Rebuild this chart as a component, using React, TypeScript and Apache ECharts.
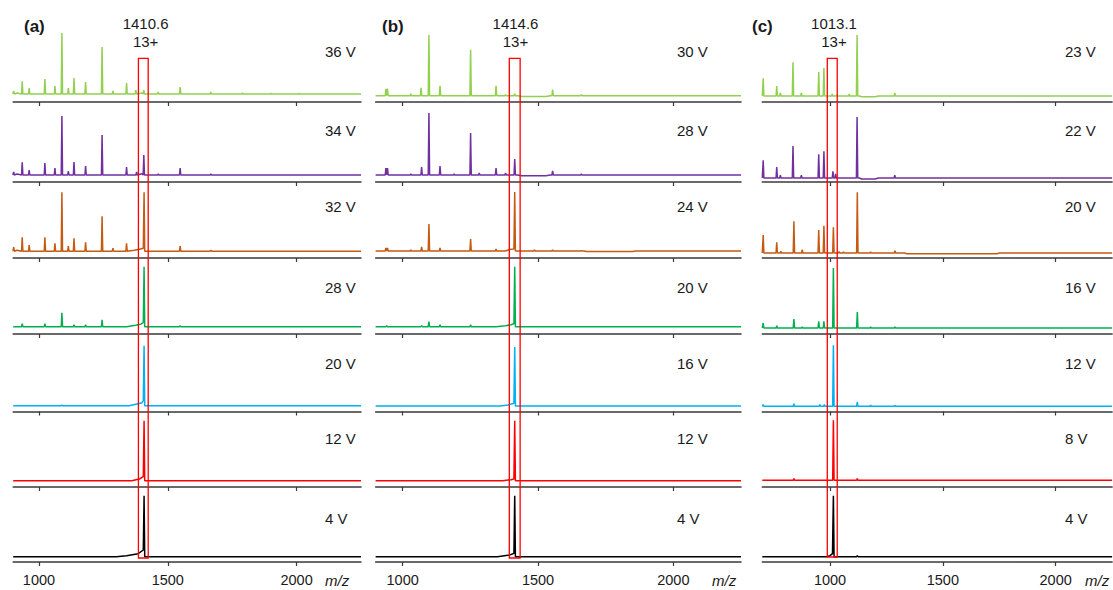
import React, { useEffect, useRef } from "react";
import * as echarts from "echarts";

// ---------------- data ----------------
const COLORS = ["#92D050", "#7030A0", "#C55A11", "#00B050", "#00B0F0", "#FF0000", "#000000"];
const TICKS = [1000, 1500, 2000];

const voltsA = ["36 V", "34 V", "32 V", "28 V", "20 V", "12 V", "4 V"];
const voltsB = ["30 V", "28 V", "24 V", "20 V", "16 V", "12 V", "4 V"];
const voltsC = ["23 V", "22 V", "20 V", "16 V", "12 V", "8 V", "4 V"];

const massA = ["1410.6", "13+"];
const massB = ["1414.6", "13+"];
const massC = ["1013.1", "13+"];

// highlighted m/z window (red box)
const boxA = [1386, 1424];
const boxB = [1394, 1434];
const boxC = [988, 1032];

// baseline level of each trace (relative intensity)
const baseA = [8, 7, 6.8, 7.3, 5.8, 6.3, 5.3];
const baseB = [6.3, 7, 7, 7.3, 5.6, 6.3, 5.3];
const baseC = [6, 4, 5, 6, 5.2, 6.7, 5.3];

// peaks: [m/z, height above baseline, left-foot height]
const a36 = [[902, 3], [935, 12.7], [962, 6], [1023, 15], [1062, 8], [1089, 61], [1114, 6], [1136, 16], [1181, 12], [1245, 47], [1287, 3], [1340, 11], [1376, 4], [1407, 4], [1463, 2], [1548, 7], [1667, 2], [1790, 1], [1900, 0.8], [2010, 0.6]];
const a34 = [[902, 3], [935, 12.7], [962, 5], [1023, 12], [1062, 7], [1089, 59], [1114, 4], [1136, 13], [1181, 9], [1245, 40], [1340, 8], [1379, 3], [1407, 20], [1463, 1], [1548, 7], [1667, 1]];
const a32 = [[902, 4], [935, 14], [962, 6], [1023, 14], [1062, 8], [1089, 59], [1114, 5], [1136, 13], [1181, 9], [1245, 35], [1287, 3], [1340, 8], [1408, 59, 3], [1548, 5], [1667, 1]];
const a28 = [[935, 3], [1023, 3], [1089, 14], [1136, 2], [1181, 2], [1245, 7], [1408, 60, 4], [1548, 1]];
const a20 = [[1089, 0.7], [1408, 60, 5]];
const a12 = [[1408, 60, 4]];
const a4 = [[1408, 61, 6.7]];

const a36Prof = [[900, 1.5], [915, 1], [1400, 1], [1412, 0]];
const a34Prof = [[900, 1.5], [915, 1], [1400, 1.2], [1420, 0]];
const a32Prof = [[900, 1.5], [915, 1], [1370, 1], [1390, 2], [1405, 3]];
const a28Prof = [[1340, 0], [1375, 1.5], [1395, 2.5], [1405, 4]];
const a20Prof = [[1350, 0], [1385, 2], [1400, 3], [1405, 5]];
const a12Prof = [[1360, 0], [1390, 1.7], [1405, 4]];
const a4Prof = [[1300, 0], [1340, 1], [1385, 3], [1405, 6.7]];

const b30 = [[938, 7], [944, 7], [1030, 2], [1068, 8], [1097, 61], [1138, 10], [1251, 46], [1345, 10], [1380, 1], [1414, 2], [1554, 6], [1660, 1]];
const b28 = [[938, 7], [944, 7], [1030, 1], [1070, 8], [1097, 62], [1138, 9], [1190, 1], [1251, 42], [1283, 2], [1345, 7], [1380, 2], [1414, 16], [1554, 4], [1660, 1]];
const b24 = [[938, 3], [944, 3], [1030, 1], [1070, 4], [1097, 27], [1138, 3], [1251, 12], [1345, 2], [1414, 59, 2], [1487, 1], [1554, 1], [1660, 0.5]];
const b20 = [[941, 1], [1070, 1], [1097, 5], [1138, 2], [1251, 2], [1414, 60, 3]];
const b16 = [[1414, 59, 2.7]];
const b12 = [[1414, 60, 1.7]];
const b4 = [[1414, 61, 3.3]];

const b30Prof = [[1425, 0], [1440, -0.7], [1530, -0.7], [1545, 0]];
const b28Prof = [[1425, 0], [1440, -0.8], [1530, -0.8], [1545, 0]];
const b24Prof = [[1380, 0], [1395, 1.5], [1411, 2], [1670, 0], [1680, -0.6], [1850, -0.6], [1860, 0]];
const b20Prof = [[1345, 0], [1380, 1], [1400, 2], [1411, 3]];
const b16Prof = [[1360, 0], [1390, 1], [1411, 2.7]];
const b12Prof = [[1370, 0], [1400, 1], [1411, 1.7]];
const b4Prof = [[1350, 0], [1395, 1.7], [1411, 3.3]];

const c23 = [[704, 17.7], [764, 10], [780, 3], [836, 33.7], [873, 3], [950, 24], [973, 28], [1010, 2], [1030, 1], [1085, 2], [1120, 61], [1287, 3]];
const c22 = [[704, 17.7], [764, 11], [780, 2.7], [836, 32], [873, 2.7], [950, 23.7], [973, 26.7], [1013, 6.7], [1025, 4], [1120, 61], [1287, 2.7]];
const c20 = [[704, 18], [764, 10.7], [782, 1.7], [840, 31.7], [877, 3.3], [950, 23], [973, 27.3], [1015, 25.7], [1040, 1.3], [1060, 1], [1121, 60.7], [1180, 1], [1288, 2.3]];
const c16 = [[704, 5], [764, 2.3], [840, 9], [877, 1], [950, 6.7], [973, 6.7], [1015, 60], [1121, 16], [1180, 1], [1288, 1]];
const c12 = [[704, 1.7], [840, 2.7], [955, 1.7], [975, 1.7], [1015, 61], [1121, 4.3], [1180, 1.3], [1288, 1]];
const c8 = [[840, 1.7], [1015, 60], [1121, 1.7]];
const c4 = [[1015, 61, 3], [1121, 1]];

const c23Prof = [[1130, 0], [1140, -0.7], [1200, -0.7], [1215, 0]];
const c22Prof = [[1130, 0], [1140, -1], [1200, -1], [1215, 0]];
const c20Prof = [[1330, 0], [1340, -0.7], [1740, -0.7], [1750, 0]];
const c16Prof: number[][] = [];
const c12Prof: number[][] = [];
const c8Prof: number[][] = [];
const c4Prof = [[985, 0], [1000, 1], [1011, 3]];

// ---------------- layout ----------------
const FONT = "'Liberation Sans', Arial, sans-serif";
const AXIS_Y = [102, 182, 258, 334, 411.5, 487, 562];
const ROW_LABEL_Y = [51, 130, 206, 287, 363, 438, 518];
const GRID_H = 80;

const panels = [
  { tag: "(a)", tagX: 24, left: 13.2, width: 347.8, min: 900, max: 2250, hw: 2.5, volts: voltsA, base: baseA,
    peaks: [a36, a34, a32, a28, a20, a12, a4], profs: [a36Prof, a34Prof, a32Prof, a28Prof, a20Prof, a12Prof, a4Prof],
    box: boxA, boxBottom: 558, mass: massA, massX: 145.6, voltX: 325, mzX: 325 },
  { tag: "(b)", tagX: 382, left: 375.6, width: 365.4, min: 900, max: 2250, hw: 2.5, volts: voltsB, base: baseB,
    peaks: [b30, b28, b24, b20, b16, b12, b4], profs: [b30Prof, b28Prof, b24Prof, b20Prof, b16Prof, b12Prof, b4Prof],
    box: boxB, boxBottom: 558, mass: massB, massX: 515.5, voltX: 677, mzX: 712 },
  { tag: "(c)", tagX: 752, left: 762.3, width: 349.8, min: 700, max: 2250, hw: 3, volts: voltsC, base: baseC,
    peaks: [c23, c22, c20, c16, c12, c8, c4], profs: [c23Prof, c22Prof, c20Prof, c16Prof, c12Prof, c8Prof, c4Prof],
    box: boxC, boxBottom: 557, mass: massC, massX: 834, voltX: 1065, mzX: 1085 },
];

function buildTrace(base: number, peaks: number[][], prof: number[][], hw: number, min: number, max: number) {
  const pts: number[][] = [[min, base]];
  prof.forEach(([x, h]) => pts.push([x, base + h]));
  peaks.forEach(([x, h, foot]) => {
    pts.push([x - hw, base + (foot || 0)]);
    pts.push([x, base + h]);
    pts.push([x + hw, base]);
  });
  pts.push([max, base]);
  pts.sort((p, q) => p[0] - q[0]);
  return pts;
}

export default function App() {
  const ref = useRef<HTMLDivElement>(null);
  useEffect(() => {
    document.body.style.margin = "0";
    const chart = echarts.init(ref.current!, null, { renderer: "svg" });
    const grid: any[] = [];
    const xAxis: any[] = [];
    const yAxis: any[] = [];
    const series: any[] = [];
    const graphic: any[] = [];
    const txt = (x: number, y: number, text: string, font: string, align = "left") => ({
      type: "text", x, y, z: 50,
      style: { text, font, fill: "#1a1a1a", align, verticalAlign: "middle", textAlign: align, textVerticalAlign: "middle" },
    });

    panels.forEach((p, pi) => {
      for (let r = 0; r < 7; r++) {
        const idx = pi * 7 + r;
        const bottomRow = r === 6;
        grid.push({ left: p.left, width: p.width, top: AXIS_Y[r] - GRID_H, height: GRID_H });
        xAxis.push({
          type: "value", gridIndex: idx, min: p.min, max: p.max,
          axisLine: { show: true, lineStyle: { color: "#3a3a3a", width: 1.5 } },
          axisTick: { show: true, customValues: TICKS, length: 4, inside: false, lineStyle: { color: "#3a3a3a", width: 1.2 } },
          axisLabel: bottomRow
            ? { show: true, customValues: TICKS, fontSize: 14.5, color: "#1a1a1a", fontFamily: FONT, margin: 10, formatter: (v: number) => String(v) }
            : { show: false },
          splitLine: { show: false },
        });
        yAxis.push({ type: "value", gridIndex: idx, min: 0, max: GRID_H, show: false, splitLine: { show: false } });
        series.push({
          type: "line", xAxisIndex: idx, yAxisIndex: idx, showSymbol: false, silent: true,
          lineStyle: { color: COLORS[r], width: 1.5 }, z: 3,
          data: buildTrace(p.base[r], p.peaks[r], p.profs[r], p.hw, p.min, p.max),
        });
        graphic.push(txt(p.voltX, ROW_LABEL_Y[r], p.volts[r], `15px ${FONT}`));
      }
      graphic.push(txt(p.tagX, 26, p.tag, `bold 17px ${FONT}`));
      graphic.push(txt(p.massX, 23, p.mass[0], `15px ${FONT}`, "center"));
      graphic.push(txt(p.massX, 41.5, p.mass[1], `15px ${FONT}`, "center"));
      graphic.push(txt(p.mzX, 580, "m/z", `italic 15px ${FONT}`));
    });

    chart.setOption({ animation: false, backgroundColor: "#fff", grid, xAxis, yAxis, series });

    panels.forEach((p, pi) => {
      const ai = pi * 7 + 6;
      const x0 = chart.convertToPixel({ xAxisIndex: ai } as any, p.box[0]) as number;
      const x1 = chart.convertToPixel({ xAxisIndex: ai } as any, p.box[1]) as number;
      graphic.push({
        type: "rect", z: 100,
        shape: { x: x0, y: 58.3, width: x1 - x0, height: p.boxBottom - 58.3 },
        style: { fill: "none", stroke: "#FF0000", lineWidth: 1.3 },
      });
    });
    chart.setOption({ graphic });

    return () => chart.dispose();
  }, []);
  return <div ref={ref} style={{ width: 1113, height: 590 }} />;
}
